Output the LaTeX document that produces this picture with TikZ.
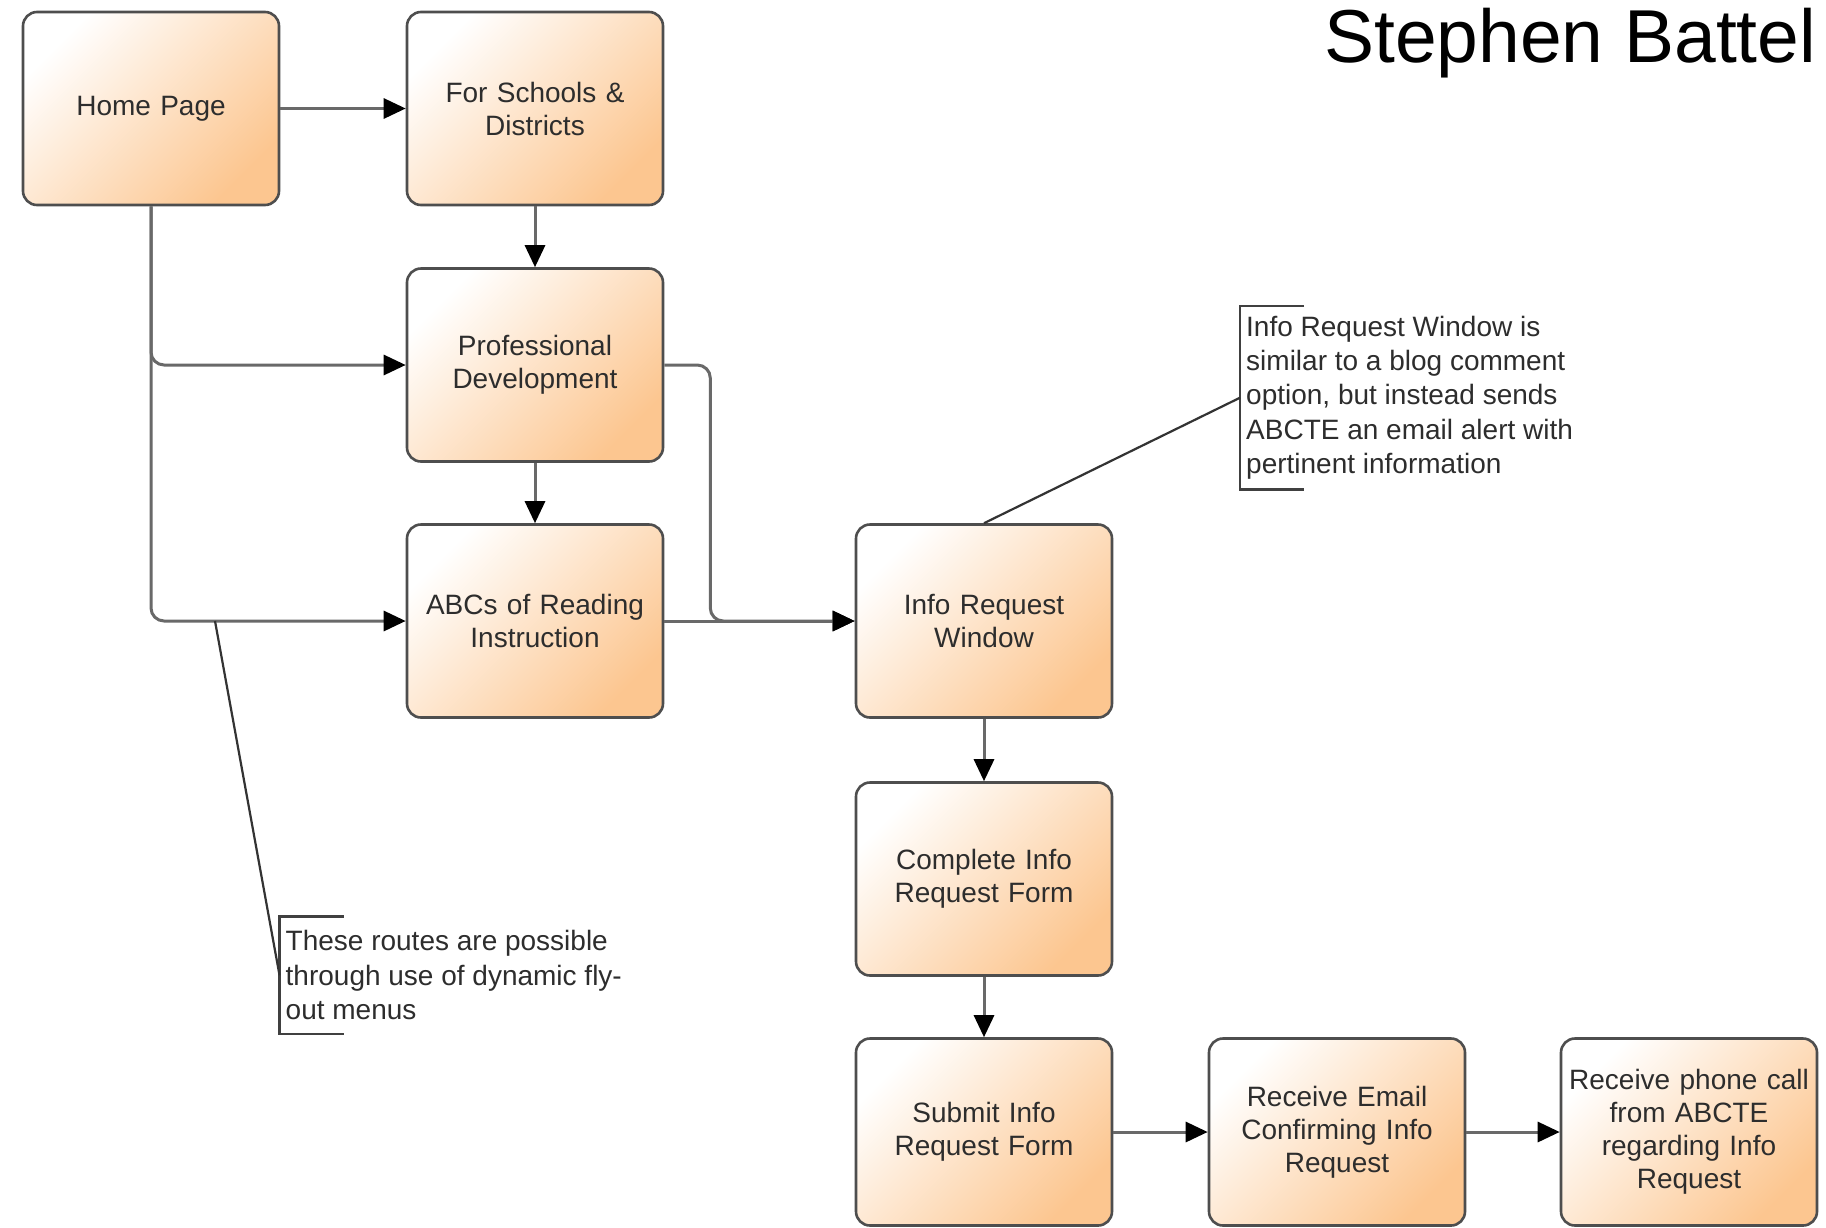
\documentclass[tikz,border=0pt]{standalone}
\usepackage{fontspec}
\setmainfont{Liberation Sans}
\usetikzlibrary{arrows.meta}
\definecolor{orangeD}{RGB}{252,198,144}
\definecolor{orangeM}{RGB}{254,222,190}
\definecolor{edgeC}{RGB}{78,78,78}
\definecolor{lineC}{RGB}{105,105,105}
\definecolor{txtC}{RGB}{45,45,45}
\begin{document}
\begin{tikzpicture}[x=1pt,y=-1pt,
  box/.style={draw=edgeC, line width=2.6pt, rounded corners=14pt,
    minimum width=256pt, minimum height=193pt, inner sep=4pt,
    text width=248pt, align=center, top color=white, middle color=orangeM,
    bottom color=orangeD, shading angle=45, font=\fontsize{28}{33}\selectfont, text=txtC},
  conn/.style={draw=lineC, line width=3pt, rounded corners=13pt,
    -{Triangle[length=22pt,width=20pt,color=black]}},
  note/.style={anchor=north west, align=left, inner xsep=6pt, inner ysep=0pt,
    font=\fontsize{28}{34.4}\selectfont, text=txtC},
  brk/.style={draw=black!75, line width=2.6pt},
  lead/.style={draw=black!80, line width=2.2pt}]
\fill[white] (0,0) rectangle (1826,1227);
\useasboundingbox (0,0) rectangle (1826,1227);

\node[anchor=base west, inner sep=0pt, font=\fontsize{75}{80}\selectfont] (title) at (1324,62) {Stephen Battel};

\node[box] (home) at (151,108.5) {Home Page};
\node[box] (schools) at (535,108.5) {For Schools \&\\Districts};
\node[box] (pd) at (535,365) {Professional\\Development};
\node[box] (abc) at (535,621) {ABCs of Reading\\Instruction};
\node[box] (irw) at (984,621) {Info Request\\Window};
\node[box] (cif) at (984,879) {Complete Info\\Request Form};
\node[box, minimum height=187pt] (sif) at (984,1132) {Submit Info\\Request Form};
\node[box, minimum height=187pt] (email) at (1337,1132) {Receive Email\\Confirming Info\\Request};
\node[box, minimum height=187pt] (phone) at (1689,1132) {Receive phone call\\from ABCTE\\regarding Info\\Request};

\draw[conn] (home.east) -- (schools.west);
\draw[conn] (schools.south) -- (pd.north);
\draw[conn] (home.south) |- (pd.west);
\draw[conn] (home.south) |- (abc.west);
\draw[conn] (pd.south) -- (abc.north);
\draw[conn] (pd.east) -- ++(46,0) |- (irw.west);
\draw[conn] (abc.east) -- (irw.west);
\draw[conn] (irw.south) -- (cif.north);
\draw[conn] (cif.south) -- (sif.north);
\draw[conn] (sif.east) -- (email.west);
\draw[conn] (email.east) -- (phone.west);

\node[note, minimum height=183pt] (n1) at (1240,306) {Info Request Window is\\similar to a blog comment\\option, but instead sends\\ABCTE an email alert with\\pertinent information};
\draw[brk] ([xshift=64pt]n1.north west) -- (n1.north west) -- (n1.south west) -- ([xshift=64pt]n1.south west);
\draw[lead] (irw.north) -- (n1.west);

\node[note, minimum height=117pt] (n2) at (279.5,916.5) {These routes are possible\\through use of dynamic fly-\\out menus};
\draw[brk] ([xshift=64pt]n2.north west) -- (n2.north west) -- (n2.south west) -- ([xshift=64pt]n2.south west);
\coordinate (lp) at (215,621);
\draw[lead] (lp) -- (n2.west);
\end{tikzpicture}
\end{document}
